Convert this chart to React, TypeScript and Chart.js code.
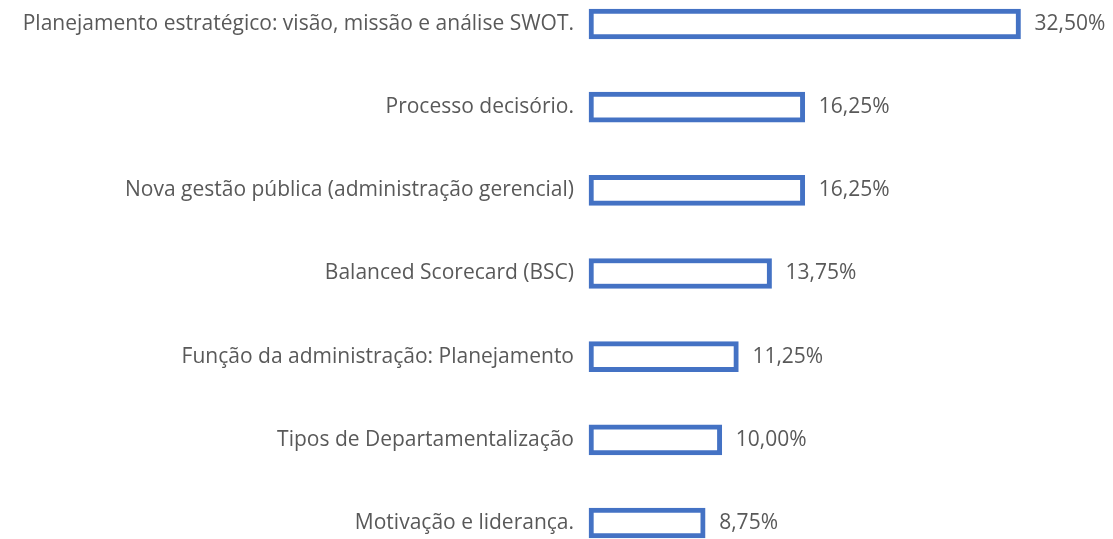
import React, { useEffect, useRef } from "react";
import { Chart, registerables } from "chart.js";

Chart.register(...registerables);

const categories = [
  "Planejamento estratégico: visão, missão e análise SWOT.",
  "Processo decisório.",
  "Nova gestão pública (administração gerencial)",
  "Balanced Scorecard (BSC)",
  "Função da administração: Planejamento",
  "Tipos de Departamentalização",
  "Motivação e liderança.",
];
const values = [32.5, 16.25, 16.25, 13.75, 11.25, 10.0, 8.75];
const valueLabels = ["32,50%", "16,25%", "16,25%", "13,75%", "11,25%", "10,00%", "8,75%"];

const FONT = "'Open Sans', sans-serif";
const TEXT = "#595959";
const BLUE = "#4472C4";

const valueLabelPlugin = {
  id: "valueLabels",
  afterDatasetsDraw(chart: any) {
    const ctx = chart.ctx;
    const meta = chart.getDatasetMeta(0);
    ctx.save();
    ctx.fillStyle = TEXT;
    ctx.font = `21px ${FONT}`;
    ctx.textAlign = "left";
    ctx.textBaseline = "middle";
    meta.data.forEach((bar: any, i: number) => {
      ctx.fillText(valueLabels[i], bar.x + 14, bar.y);
    });
    ctx.restore();
  },
};

export default function App() {
  const ref = useRef<HTMLCanvasElement>(null);
  useEffect(() => {
    document.body.style.margin = "0";
    const chart = new Chart(ref.current!, {
      type: "bar",
      data: {
        labels: categories,
        datasets: [
          {
            data: values,
            backgroundColor: "#FFFFFF",
            borderColor: BLUE,
            borderWidth: 5,
            borderSkipped: false,
            barThickness: 30,
            clip: false as any,
          },
        ],
      },
      options: {
        indexAxis: "y",
        animation: false,
        responsive: false,
        maintainAspectRatio: false,
        layout: { padding: { top: 24, bottom: 16, left: 0, right: 46 } },
        plugins: { legend: { display: false }, tooltip: { enabled: false } },
        scales: {
          x: {
            display: false,
            min: 0,
            max: 36,
          },
          y: {
            type: "category",
            offset: false,
            grid: { display: false, drawTicks: false },
            border: { display: false },
            ticks: {
              color: TEXT,
              font: { family: FONT, size: 21 },
              padding: 15,
            },
            afterFit(scale: any) {
              scale.width = 589;
              scale.paddingTop = 0;
              scale.paddingBottom = 0;
            },
          },
        },
      },
      plugins: [valueLabelPlugin],
    });
    return () => chart.destroy();
  }, []);
  return <canvas ref={ref} width={1113} height={539} style={{ display: "block" }} />;
}
